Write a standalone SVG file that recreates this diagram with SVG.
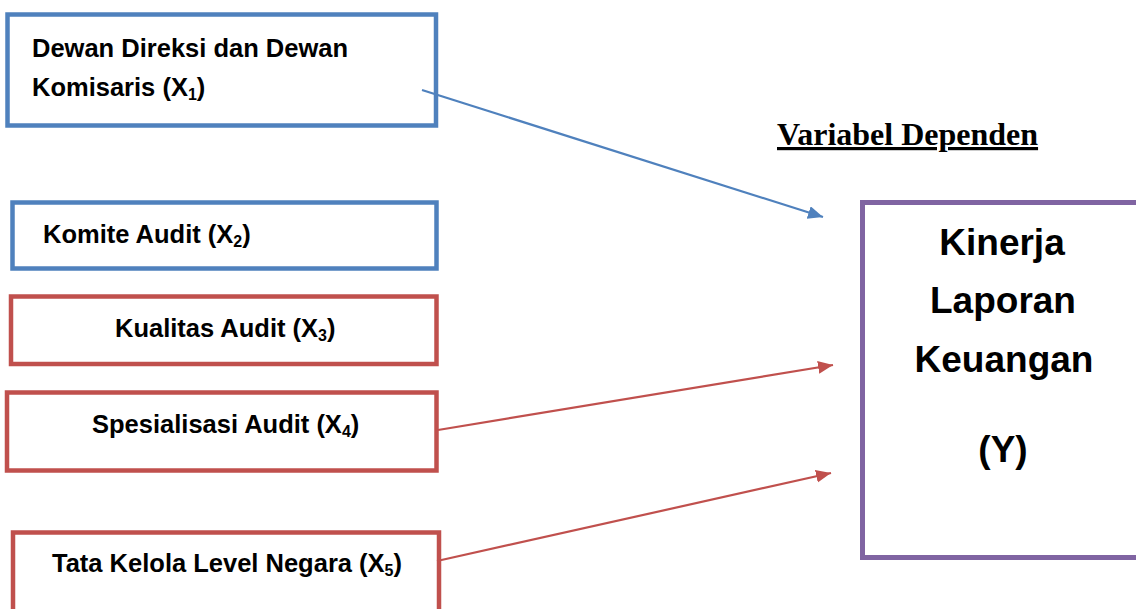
<svg xmlns="http://www.w3.org/2000/svg" width="1136" height="609" viewBox="0 0 1136 609">
<style>
.box{fill:#ffffff;stroke-width:4.5}
.blue{stroke:#4F81BD}
.red{stroke:#C0504D}
.purple{stroke:#8064A2;stroke-width:5}
.t{font-family:"Liberation Sans",Arial,sans-serif;font-weight:bold;font-size:25.5px;fill:#000}
.big{font-family:"Liberation Sans",Arial,sans-serif;font-weight:bold;font-size:37px;fill:#000;text-anchor:middle}
.sub{font-size:16px}
.conn{fill:none;stroke-width:2.2}
</style>
<defs>
<marker id="ahBlue" markerUnits="userSpaceOnUse" markerWidth="18" markerHeight="14" refX="15" refY="6.5" orient="auto">
<path d="M0,0 L15,6.5 L0,13 z" fill="#4F81BD"/>
</marker>
<marker id="ahRed" markerUnits="userSpaceOnUse" markerWidth="18" markerHeight="14" refX="15" refY="6.5" orient="auto">
<path d="M0,0 L15,6.5 L0,13 z" fill="#C0504D"/>
</marker>
</defs>
<rect width="1136" height="609" fill="#ffffff"/>

<g id="x1">
<rect class="box blue" x="7.5" y="14.5" width="428.5" height="111"/>
<text class="t" x="32" y="57">Dewan Direksi dan Dewan</text>
<text class="t" x="32" y="96">Komisaris (X<tspan class="sub" dy="4">1</tspan><tspan dy="-4">)</tspan></text>
</g>

<g id="x2">
<rect class="box blue" x="12.5" y="202.5" width="424" height="66"/>
<text class="t" x="43" y="243">Komite Audit (X<tspan class="sub" dy="4">2</tspan><tspan dy="-4">)</tspan></text>
</g>

<g id="x3">
<rect class="box red" x="11" y="296.5" width="425.5" height="67.5"/>
<text class="t" x="115" y="337">Kualitas Audit (X<tspan class="sub" dy="4">3</tspan><tspan dy="-4">)</tspan></text>
</g>

<g id="x4">
<rect class="box red" x="7" y="392.5" width="429.5" height="78"/>
<text class="t" x="92" y="433">Spesialisasi Audit (X<tspan class="sub" dy="4">4</tspan><tspan dy="-4">)</tspan></text>
</g>

<g id="x5">
<rect class="box red" x="13" y="532.5" width="426" height="100"/>
<text class="t" x="52" y="572">Tata Kelola Level Negara (X<tspan class="sub" dy="4">5</tspan><tspan dy="-4">)</tspan></text>
</g>

<g id="label">
<text x="777" y="145" font-family="'Liberation Serif','Times New Roman',serif" font-weight="bold" font-size="32" text-decoration="underline" fill="#000">Variabel Dependen</text>
</g>

<g id="y">
<rect class="box purple" x="862.5" y="202.5" width="300" height="355"/>
<text class="big" x="1002" y="255">Kinerja</text>
<text class="big" x="1003" y="313">Laporan</text>
<text class="big" x="1004" y="372">Keuangan</text>
<text class="big" x="1003" y="462">(Y)</text>
</g>

<g id="connectors">
<line class="conn" x1="422" y1="90" x2="823" y2="217" stroke="#4F81BD" marker-end="url(#ahBlue)"/>
<line class="conn" x1="438" y1="430" x2="833" y2="365" stroke="#C0504D" marker-end="url(#ahRed)"/>
<line class="conn" x1="437" y1="561" x2="831" y2="473" stroke="#C0504D" marker-end="url(#ahRed)"/>
</g>
</svg>
